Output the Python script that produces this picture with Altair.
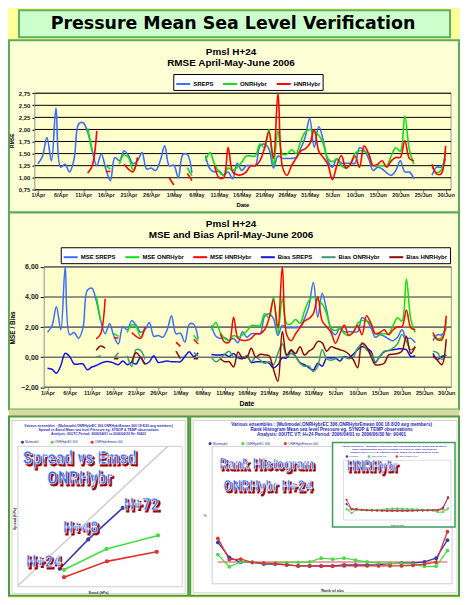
import altair as alt
import pandas as pd

N = None

# ---------------- data ----------------
tick_labels = ["1/Apr", "6/Apr", "11/Apr", "16/Apr", "21/Apr", "26/Apr", "1/May", "6/May",
               "11/May", "16/May", "21/May", "26/May", "31/May", "5/Jun", "10/Jun", "15/Jun",
               "20/Jun", "25/Jun", "30/Jun"]
tick_days = list(range(0, 91, 5))

rmse_names = ["SREPS", "ONRHybr", "HNRHybr"]
rmse_colors = ["#3D6EF5", "#11DD11", "#FF0000"]
rmse_ticks = [0.75, 1.0, 1.25, 1.5, 1.75, 2.0, 2.25, 2.5, 2.75]

rmse_sreps = [1.29, 1.44, 1.83, 1.35, 2.45, 1.22, 1.28, 1.12, 1.39, 2.11,
              2.14, 1.94, 1.56, 1.25, 1.49, 1.18, 0.94, 1.42, 1.35, 1.56,
              1.46, 1.29, 1.35, 1.52, 1.18, 1.20, 1.15, 1.35, 1.66, 1.25,
              1.26, 1.00, 1.48, 1.48, 1.10, N, N, 1.46, 1.18, 1.12,
              1.14, 1.05, 1.12, 0.98, 1.30, 1.15, 1.25, 1.25, 1.25, 1.65,
              1.70, 1.60, 1.20, 1.45, 1.40, 1.40, 1.40, 1.42, 1.60, 1.84,
              2.23, 1.63, 2.06, 1.77, 1.35, 1.22, 1.39, 1.30, 1.30, 1.30,
              1.30, 1.62, 1.57, 1.40, 1.15, 1.22, 1.18, 1.10, 1.05, 1.15,
              1.35, 1.12, 1.12, 0.98, N, N, N, 1.05, 1.22, 1.22,
              1.39]
rmse_onr = [N, N, N, N, N, N, N, N, N, N,
            N, 2.02, 1.55, N, N, 1.25, 1.18, N, 1.28, 1.47,
            1.42, 1.16, 1.40, N, N, N, N, N, N, N,
            N, N, N, 1.21, 1.04, N, N, 1.35, 1.52, 1.28,
            1.12, 1.05, 1.20, 1.15, 1.22, 1.32, 1.45, 1.45, 1.45, 1.70,
            1.62, 2.00, 1.25, 1.97, 1.49, 1.49, 1.58, 1.50, 1.75, 1.94,
            2.00, 1.95, 1.88, 1.70, 1.40, 1.33, 1.39, 1.25, 1.20, 1.30,
            1.50, 1.56, 1.55, 1.49, 1.25, 1.25, 1.25, 1.25, 1.45, 1.62,
            1.55, 2.28, 1.58, 1.28, N, N, N, 1.22, 1.11, 1.15,
            1.56]
rmse_hnr = [N, N, N, N, N, N, N, N, N, N,
            N, 1.10, 1.25, 1.97, N, 1.13, 1.13, N, N, 1.28,
            1.18, 1.12, 1.42, N, N, N, N, N, N, 1.00,
            0.85, N, N, 1.09, 0.94, N, N, N, N, 1.25,
            1.00, 1.00, 1.63, 1.12, 1.06, 1.06, 1.12, 1.25, 1.25, 1.35,
            1.60, 1.95, 1.40, 2.75, 1.22, 1.05, 1.25, 1.40, 1.55, 1.60,
            1.70, 2.00, 1.55, 1.42, 1.28, 0.96, 1.25, 1.46, 1.20, 1.28,
            1.45, 1.22, 1.66, 1.50, 1.25, 1.28, 1.35, 1.22, 1.35, 1.42,
            1.42, 1.77, 1.40, 1.35, N, N, N, 1.28, 1.08, 1.08,
            1.66]

mse_names = ["MSE SREPS", "MSE ONRHybr", "MSE HNRHybr", "Bias SREPS", "Bias ONRHybr", "Bias HNRHybr"]
mse_colors = ["#3D6EF5", "#11DD11", "#FF0000", "#1515E0", "#3A9A6A", "#8B0A0A"]
mse_ticks = [-2, 0, 2, 4, 6]

mse_sreps = [1.66, 2.07, 3.35, 1.82, 6.00, 1.49, 1.64, 1.25, 1.93, 4.45,
             4.58, 3.76, 2.43, 1.56, 2.22, 1.39, 0.88, 2.02, 1.82, 2.43,
             2.13, 1.66, 1.82, 2.31, 1.39, 1.44, 1.32, 1.82, 2.76, 1.56,
             1.59, 1.00, 2.19, 2.19, 1.21, N, N, 2.13, 1.39, 1.25,
             1.30, 1.10, 1.25, 0.96, 1.69, 1.32, 1.56, 1.56, 1.56, 2.72,
             2.89, 2.56, 1.44, 2.10, 1.96, 1.96, 1.96, 2.02, 2.56, 3.39,
             4.97, 2.66, 4.24, 3.13, 1.82, 1.49, 1.93, 1.69, 1.69, 1.69,
             1.69, 2.62, 2.46, 1.96, 1.32, 1.49, 1.39, 1.21, 1.10, 1.32,
             1.82, 1.25, 1.25, 0.96, N, N, N, 1.10, 1.49, 1.49,
             1.93]
mse_onr = [N, N, N, N, N, N, N, N, N, N,
           N, 4.08, 2.40, N, N, 1.56, 1.39, N, 1.64, 2.16,
           2.02, 1.35, 1.96, N, N, N, N, N, N, N,
           N, N, N, 1.46, 1.08, N, N, 1.82, 2.31, 1.64,
           1.25, 1.10, 1.44, 1.32, 1.49, 1.74, 2.10, 2.10, 2.10, 2.89,
           2.62, 4.00, 1.56, 3.88, 2.22, 2.22, 2.50, 2.25, 3.06, 3.76,
           4.00, 3.80, 3.53, 2.89, 1.96, 1.77, 1.93, 1.56, 1.44, 1.69,
           2.25, 2.43, 2.40, 2.22, 1.56, 1.56, 1.56, 1.56, 2.10, 2.62,
           2.40, 5.20, 2.50, 1.64, N, N, N, 1.49, 1.23, 1.32,
           2.43]
mse_hnr = [N, N, N, N, N, N, N, N, N, N,
           N, 1.21, 1.56, 3.88, N, 1.28, 1.28, N, N, 1.64,
           1.39, 1.25, 2.02, N, N, N, N, N, N, 1.00,
           0.72, N, N, 1.19, 0.88, N, N, N, N, 1.56,
           1.00, 1.00, 2.66, 1.25, 1.12, 1.12, 1.25, 1.56, 1.56, 1.82,
           2.56, 3.80, 1.96, 7.56, 1.49, 1.10, 1.56, 1.96, 2.40, 2.56,
           2.89, 4.00, 2.40, 2.02, 1.64, 0.92, 1.56, 2.13, 1.44, 1.64,
           2.10, 1.49, 2.76, 2.25, 1.56, 1.64, 1.82, 1.49, 1.82, 2.02,
           2.02, 3.13, 1.96, 1.82, N, N, N, 1.64, 1.17, 1.17,
           2.76]
bias_sreps = [-0.73, -0.80, -1.06, -0.55, 0.26, 0.05, -0.45, -0.45, -0.45, -0.84,
              -0.65, -0.55, -0.40, -0.30, -0.30, -0.40, -0.50, -0.25, -0.50, -0.35,
              -0.45, 0.00, -0.45, -0.30, 0.10, -0.35, -0.30, -0.25, -0.30, -0.30,
              -0.30, 0.05, 0.37, 0.05, 0.30, N, N, 0.18, 0.15, 0.15,
              0.18, 0.05, 0.25, -0.05, -0.10, 0.10, -0.35, -0.30, -0.30, -0.30,
              -0.40, -0.70, -0.50, -0.05, -0.05, 0.45, 0.05, -0.35, -0.50, -0.70,
              -0.85, -0.40, -0.60, -0.05, -0.05, -0.05, -0.25, 0.05, -0.05, 0.20,
              0.50, 0.70, 0.60, 0.40, -0.35, 0.05, 0.35, 0.45, 0.50, 0.55,
              0.55, 0.50, 0.05, 0.10, N, N, N, 0.25, -0.15, 0.05,
              0.15]
bias_onr = [N, N, N, N, N, N, N, N, N, N,
            N, 0.00, 0.10, N, N, -0.05, 0.30, N, 0.10, -0.60,
            0.50, 0.45, -0.15, N, N, N, N, N, N, N,
            N, N, N, 0.30, 0.10, N, N, 0.00, -0.30, -0.10,
            0.20, 0.40, 0.00, 0.05, 0.00, 0.05, -0.30, 0.00, -0.20, -0.40,
            -0.30, -0.50, 0.25, 0.90, 0.05, 0.25, 0.05, -0.40, -0.60, -0.60,
            -0.95, -0.60, 0.50, -0.10, -0.20, -0.10, 0.00, 0.00, -0.10, 0.00,
            0.60, 0.90, 0.50, 0.25, -0.30, 0.05, 0.40, 0.45, 0.60, 0.90,
            1.50, 1.05, 0.50, 0.70, N, N, N, 0.40, 0.30, -0.15,
            0.15]
bias_hnr = [N, N, N, N, N, N, N, N, N, N,
            N, 0.45, 0.75, 0.60, N, -0.10, -0.10, N, N, -0.35,
            0.30, 0.00, -0.45, N, N, N, N, N, N, 0.40,
            -0.10, N, N, -0.10, -0.10, N, N, N, N, -0.10,
            -0.30, -0.30, -0.65, 0.35, -0.05, 0.00, 0.60, 0.00, 0.20, 0.15,
            0.10, -0.80, -1.60, 1.70, 0.15, 0.50, 0.25, 0.70, 0.15, 0.40,
            0.60, 1.05, 0.95, 0.40, 0.70, 0.60, 0.50, 0.40, 0.20, -0.15,
            -0.70, 0.95, 0.70, 0.05, -0.50, -0.50, -0.40, 0.15, 0.20, 0.25,
            0.40, 1.40, 0.25, 0.70, N, N, N, 0.10, -0.20, -0.50,
            1.20]

# Spread vs Emsd (ONRHybr)
spread_names = ["Mulimodel", "ONRHybrEC 306", "ONRHybrEmean 000"]
spread_colors = ["#3A3AAA", "#44DD44", "#DD3333"]
lead_labels = ["H+24", "H+48", "H+72"]
emsd_blue = [1.41, 1.88, 2.45]
spread_blue = [1.02, 1.54, 2.10]
emsd_green = [1.48, 2.18, 3.03]
spread_green = [1.00, 1.37, 1.61]
emsd_red = [1.48, 2.19, 3.01]
spread_red = [0.87, 1.15, 1.32]
diag = [0.72, 3.19]

# Rank histograms
ranks = list(range(21))
rank_blue = [9.1, 5.8, 4.7, 4.7, 4.3, 4.3, 4.1, 3.9, 3.9, 3.9, 3.9, 4.1, 4.1, 4.1, 4.2, 4.4, 4.5, 4.5, 4.8, 5.6, 9.6]
rank_green = [6.4, 3.7, 4.8, 4.7, 4.5, 4.5, 4.6, 4.7, 4.8, 5.6, 5.4, 5.6, 5.2, 4.8, 4.5, 4.4, 4.4, 4.3, 3.8, 3.8, 7.3]
rank_red = [10.0, 5.3, 5.4, 4.7, 4.5, 4.4, 4.1, 3.9, 3.9, 3.8, 3.8, 3.9, 3.9, 3.9, 3.9, 3.9, 3.9, 4.0, 4.3, 4.7, 11.5]
hnr_blue = [7.8, 5.2, 5.0, 4.8, 4.6, 4.5, 4.5, 4.4, 4.4, 4.4, 4.4, 4.4, 4.4, 4.5, 4.5, 4.5, 4.6, 4.6, 4.7, 6.0, 10.9]
hnr_green = [5.2, 3.1, 4.8, 4.7, 4.6, 4.6, 4.7, 4.9, 5.3, 5.4, 5.5, 5.4, 5.3, 5.2, 5.0, 4.8, 4.6, 4.5, 3.6, 3.6, 5.5]
hnr_red = [10.0, 5.2, 5.2, 4.8, 4.6, 4.5, 4.4, 4.3, 4.2, 4.2, 4.2, 4.2, 4.2, 4.3, 4.4, 4.5, 4.5, 4.6, 4.7, 5.4, 11.4]
uniform_pct = 4.76

rank_title = ["Various ensembles : (Mulimodel,ONRHybrEC 306,ONRHybrEmean 000 18 8/20 avg members)",
              "Rank Histogram  Mean sea level Pressure  eg. SYNOP & TEMP observations",
              "Analysis: 00UTC  VT: H+24  Period: 2006/04/01 to 2006/06/30  Nr: 90401"]
spread_title = ["Various ensembles : (Mulimodel,ONRHybrEC 306,ONRHybrEmean 000 18 8/20 avg members)",
                "Spread vs Emsd  Mean sea level Pressure  eg. SYNOP & TEMP observations",
                "Analysis: 00UTC  Period: 2006/04/01 to 2006/06/30  Nr: 90401"]

# ---------------- helpers ----------------
ONE = pd.DataFrame({"a": [0]})
FONT = "Liberation Sans, Arial, Helvetica, sans-serif"
BIG = "Liberation Sans Narrow, Roboto Condensed, DejaVu Sans Condensed, Arial Narrow, sans-serif"
W = 452
H_TITLE, H_RMSE, H_MSE, H_STRIPE, H_BOT = 31, 173, 198, 7, 180
PANEL_FILL = "#FFFFD6"
PLOT_FILL = "#FFFFCC"
GREEN = "#5DAA5D"


def long_df(names, arrays, xname="day"):
    rows = []
    for name, arr in zip(names, arrays):
        seg = 0
        for d, v in enumerate(arr):
            if v is None:
                seg += 1
                continue
            rows.append({xname: d, "value": v, "series": name, "seg": f"{name}-{seg}"})
    return pd.DataFrame(rows)


def txt(text, x, y, size, color="black", weight="bold", angle=None, font=FONT, align="center"):
    kw = dict(text=text, fontSize=size, fontWeight=weight, fill=color, font=font,
              align=align, baseline="middle")
    if angle is not None:
        kw["angle"] = angle
    return alt.Chart(ONE).mark_text(**kw).encode(x=alt.value(x), y=alt.value(y))


def box(x, x2, y, y2, fill, stroke, sw=1.0):
    return alt.Chart(ONE).mark_rect(fill=fill, stroke=stroke, strokeWidth=sw).encode(
        x=alt.value(x), x2=alt.value(x2), y=alt.value(y), y2=alt.value(y2))


def bigtext(text, x, y, size):
    base = dict(text=text, fontSize=size, fontWeight="bold", font=BIG, align="center", baseline="middle")
    return [
        alt.Chart(ONE).mark_text(**base, fill="#A00000", stroke="#A00000", strokeWidth=0.8, dx=1.8, dy=1.8)
        .encode(x=alt.value(x), y=alt.value(y)),
        alt.Chart(ONE).mark_text(**base, fill="#2F6CF5", stroke="white", strokeWidth=0.6)
        .encode(x=alt.value(x), y=alt.value(y)),
    ]


label_arr = "[" + ",".join("'%s'" % t for t in tick_labels) + "]"
x_label_expr = label_arr + "[round(datum.value/5)]"
comma_expr = "replace(format(datum.value, '.2f'), '.', ',')"


def date_panel(height, xdom, xrange, ydom, yrange, yticks, df, names, colors, title2,
               legend_x, legend_y, ytitle, ytitle_pos, date_pos, ylab_size, ytick_size,
               grid_color, grid_width, clamp=False, line_width=1.6):
    xs = alt.Scale(domain=xdom, range=xrange, nice=False, zero=False)
    ys = alt.Scale(domain=ydom, range=yrange, nice=False, zero=False, clamp=clamp)
    xa = alt.Axis(orient="bottom", offset=yrange[0] - height, values=tick_days, labelExpr=x_label_expr,
                  labelFontSize=5.5, labelFont=FONT, labelFontWeight="bold", labelColor="#202020",
                  tickSize=3, tickColor="#808080", domain=False, grid=False, title=None,
                  labelPadding=0, labelOverlap=False, labelFlush=False, labelBound=False)
    ya = alt.Axis(orient="left", offset=-xrange[0], values=yticks, labelExpr=comma_expr,
                  labelFontSize=ylab_size, labelFont=FONT, labelFontWeight="bold", labelColor="#202020",
                  tickSize=ytick_size, tickColor="black", domain=True, domainColor="black",
                  grid=False, title=None, labelPadding=2, labelOverlap=False, labelFlush=False)
    bg = alt.Chart(ONE).mark_rect(fill=PLOT_FILL, stroke="#9A9A9A", strokeWidth=1).encode(
        x=alt.XDatum(xdom[0], scale=xs, axis=xa), x2=alt.X2Datum(xdom[1]),
        y=alt.YDatum(ydom[0], scale=ys, axis=ya), y2=alt.Y2Datum(ydom[1]))
    grid = alt.Chart(pd.DataFrame({"g": yticks})).mark_rule(color=grid_color, strokeWidth=grid_width).encode(
        y=alt.Y("g:Q", scale=ys, axis=ya),
        x=alt.XDatum(xdom[0], scale=xs, axis=xa), x2=alt.X2Datum(xdom[1]))
    lines = alt.Chart(df).mark_line(interpolate="catmull-rom", strokeWidth=line_width).encode(
        x=alt.X("day:Q", scale=xs, axis=xa),
        y=alt.Y("value:Q", scale=ys, axis=ya),
        color=alt.Color("series:N", scale=alt.Scale(domain=names, range=colors),
                        legend=alt.Legend(orient="none", legendX=legend_x, legendY=legend_y,
                                          direction="horizontal", columns=len(names),
                                          symbolType="stroke", symbolSize=196, symbolStrokeWidth=2,
                                          labelFontSize=6, labelFont=FONT, labelFontWeight="bold",
                                          labelColor="black", labelOffset=2, columnPadding=5,
                                          padding=2, rowPadding=0, strokeColor="black",
                                          fillColor="white", title=None, labelLimit=200)),
        detail="seg:N")
    layers = [bg, grid, lines,
              txt("Pmsl     H+24", 223, 12, 10),
              txt(title2, 223, 23, 10),
              txt(ytitle, ytitle_pos[0], ytitle_pos[1], ytitle_pos[2], angle=270),
              txt("Date", date_pos[0], date_pos[1], date_pos[2])]
    return alt.layer(*layers).properties(
        width=W, height=height,
        view=alt.ViewBackground(fill=PANEL_FILL, stroke=GREEN, strokeWidth=2))


# ---------------- title ----------------
title_chart = alt.layer(
    box(10, 443, 1, 28, "#CCFFCC", "#5FAF5F", 2),
    txt("Pressure Mean Sea Level Verification", 225, 14.5, 17.5,
        font="DejaVu Sans, Verdana, sans-serif"),
).properties(width=W, height=H_TITLE, view=alt.ViewBackground(fill="#FFFF99", stroke=None))

# ---------------- RMSE ----------------
rmse_df = long_df(rmse_names, [rmse_sreps, rmse_onr, rmse_hnr])
rmse_chart = date_panel(H_RMSE, [-0.66, 91.2], [26, 444], [0.75, 2.75], [150.3, 53.3], rmse_ticks,
                        rmse_df, rmse_names, rmse_colors, "RMSE     April-May-June 2006",
                        165, 34, "RMSE", (3, 101, 5), (235, 166, 6), 6, 3, "black", 1)

# ---------------- MSE & Bias ----------------
mse_df = long_df(mse_names, [mse_sreps, mse_onr, mse_hnr, bias_sreps, bias_onr, bias_hnr])
mse_chart = date_panel(H_MSE, [-0.76, 91.15], [35.3, 444.3], [-2, 6], [175.7, 54.7], mse_ticks,
                       mse_df, mse_names, mse_colors, "MSE and Bias     April-May-June 2006",
                       52, 35, "MSE / Bias", (4, 116, 6.5), (239, 192, 7), 7, 4, "#707070", 1.6,
                       clamp=True, line_width=1.5)

stripe = alt.Chart(ONE).mark_text(text="").encode(x=alt.value(0), y=alt.value(0)).properties(
    width=W, height=H_STRIPE, view=alt.ViewBackground(fill="#D9D9A3", stroke=None))


# ---------------- bottom left: Spread vs Emsd ----------------
def mini_legend(x, y, size):
    return alt.Legend(orient="none", legendX=x, legendY=y, direction="horizontal", columns=3,
                      symbolType="circle", symbolSize=size * 3, labelFontSize=size, labelFont=FONT,
                      labelColor="#3030A0", labelOffset=1, columnPadding=size * 4, padding=0,
                      title=None, symbolStrokeWidth=0)


sp_rows = []
for name, xs_, ys_ in zip(spread_names, [emsd_blue, emsd_green, emsd_red], [spread_blue, spread_green, spread_red]):
    for lead, xv, yv in zip(lead_labels, xs_, ys_):
        sp_rows.append({"emsd": xv, "spread": yv, "series": name, "lead": lead})
sp_df = pd.DataFrame(sp_rows)

lx = alt.Scale(domain=[0.72, 3.43], range=[9, 174], nice=False, zero=False)
ly = alt.Scale(domain=[0.70, 3.19], range=[171, 30], nice=False, zero=False)
lxa = alt.Axis(orient="bottom", offset=171 - H_BOT, values=[1, 2, 3], labelFontSize=4, labelFont=FONT,
               tickSize=2, tickColor="#999999", domain=False, grid=False, title=None, labelPadding=1,
               labelColor="#333333")
lya = alt.Axis(orient="left", offset=-9, values=[1, 2, 3], labelFontSize=4, labelFont=FONT,
               tickSize=2, tickColor="#999999", domain=False, grid=False, title=None, labelPadding=2,
               labelColor="#333333")
l_frame = alt.Chart(ONE).mark_rect(fill="white", stroke="#C4C4C4", strokeWidth=0.8).encode(
    x=alt.XDatum(0.72, scale=lx, axis=lxa), x2=alt.X2Datum(3.43),
    y=alt.YDatum(0.70, scale=ly, axis=lya), y2=alt.Y2Datum(3.19))
l_diag = alt.Chart(pd.DataFrame({"emsd": diag, "spread": diag})).mark_line(color="#D0D0D0", strokeWidth=1.5).encode(
    x=alt.X("emsd:Q", scale=lx, axis=lxa), y=alt.Y("spread:Q", scale=ly, axis=lya))
l_lines = alt.Chart(sp_df).mark_line(strokeWidth=1.6, point=alt.OverlayMarkDef(filled=True, size=18)).encode(
    x=alt.X("emsd:Q", scale=lx, axis=lxa), y=alt.Y("spread:Q", scale=ly, axis=lya),
    color=alt.Color("series:N", scale=alt.Scale(domain=spread_names, range=spread_colors),
                    legend=mini_legend(12, 24, 3)))
left_layers = [box(3, 177, 4, 178, "white", "#C8C8C8", 0.8), l_frame, l_diag, l_lines]
for i, t in enumerate(spread_title):
    left_layers.append(txt(t, 90, 10 + i * 4, 3.4, color="#3030C0"))
left_layers += [txt("Spread (hPa)", 6, 103, 3.6, color="#333333", angle=270),
                txt("Emsd (hPa)", 90, 177, 3.6, color="#333333")]
left_layers += bigtext("Spread vs Emsd", 71, 43, 18)
left_layers += bigtext("ONRHybr", 71, 63, 18)
left_layers += bigtext("H+24", 35, 146, 17)
left_layers += bigtext("H+48", 72, 112, 17)
left_layers += bigtext("H+72", 133, 89, 17)
left_chart = alt.layer(*left_layers).properties(
    width=180, height=H_BOT, view=alt.ViewBackground(fill="#FFFFE6", stroke="#4D9A4D", strokeWidth=2))

# ---------------- bottom right: Rank histogram ----------------
rk_df = long_df(spread_names, [rank_blue, rank_green, rank_red], xname="rank")
hn_df = long_df(spread_names, [hnr_blue, hnr_green, hnr_red], xname="rank")

kx = alt.Scale(domain=[-0.5, 20.4], range=[22, 263], nice=False, zero=False)
ky = alt.Scale(domain=[-0.07, 30.44], range=[168, 30], nice=False, zero=False)
kxa = alt.Axis(orient="bottom", offset=168 - H_BOT, values=ranks, labelFontSize=3.6, labelFont=FONT,
               tickSize=2, tickColor="#999999", domain=False, grid=False, title=None, labelPadding=1,
               labelColor="#333333", labelOverlap=False, labelFlush=False)
kya = alt.Axis(orient="left", offset=-22, values=[0, 10, 20, 30], labelFontSize=3.6, labelFont=FONT,
               tickSize=2, tickColor="#999999", domain=False, grid=False, title=None, labelPadding=2,
               labelColor="#333333")
k_frame = alt.Chart(ONE).mark_rect(fill="white", stroke="#C4C4C4", strokeWidth=0.8).encode(
    x=alt.XDatum(-0.5, scale=kx, axis=kxa), x2=alt.X2Datum(20.4),
    y=alt.YDatum(-0.07, scale=ky, axis=kya), y2=alt.Y2Datum(30.44))
k_rule = alt.Chart(ONE).mark_rule(color="#E03030", strokeWidth=0.9).encode(
    x=alt.XDatum(0, scale=kx, axis=kxa), x2=alt.X2Datum(20),
    y=alt.YDatum(uniform_pct, scale=ky, axis=kya))
k_lines = alt.Chart(rk_df).mark_line(strokeWidth=1.3, point=alt.OverlayMarkDef(filled=True, size=14)).encode(
    x=alt.X("rank:Q", scale=kx, axis=kxa), y=alt.Y("value:Q", scale=ky, axis=kya),
    color=alt.Color("series:N", scale=alt.Scale(domain=spread_names, range=spread_colors),
                    legend=mini_legend(18, 25, 3.2)))
main_layers = [box(3, 268, 4, 177, "white", "#C8C8C8", 0.8), k_frame, k_rule, k_lines]
for i, t in enumerate(rank_title):
    main_layers.append(txt(t, 142, 9 + i * 5, 4.6, color="#2828B8"))
main_layers += [txt("%", 15, 100, 4, color="#333333", weight="normal"),
                txt("Rank of obs", 143, 175.5, 4, color="#333333")]
main_group = alt.layer(*main_layers)

ix = alt.Scale(domain=[-0.6, 20.6], range=[154, 262], nice=False, zero=False)
iy = alt.Scale(domain=[-0.5, 30.5], range=[104, 44], nice=False, zero=False)
ixa = alt.Axis(orient="bottom", offset=104 - H_BOT, values=ranks, labelFontSize=2.2, labelFont=FONT,
               tickSize=1, tickColor="#999999", domain=False, grid=False, title=None, labelPadding=0.5,
               labelColor="#555555", labelOverlap=False, labelFlush=False)
iya = alt.Axis(orient="left", offset=-154, values=[0, 10, 20, 30], labelFontSize=2.4, labelFont=FONT,
               tickSize=1, tickColor="#999999", domain=False, grid=False, title=None, labelPadding=1,
               labelColor="#555555")
i_frame = alt.Chart(ONE).mark_rect(fill="white", stroke="#C8C8C8", strokeWidth=0.6).encode(
    x=alt.XDatum(-0.6, scale=ix, axis=ixa), x2=alt.X2Datum(20.6),
    y=alt.YDatum(-0.5, scale=iy, axis=iya), y2=alt.Y2Datum(30.5))
i_rule = alt.Chart(ONE).mark_rule(color="#E03030", strokeWidth=0.6).encode(
    x=alt.XDatum(0, scale=ix, axis=ixa), x2=alt.X2Datum(20),
    y=alt.YDatum(uniform_pct, scale=iy, axis=iya))
i_lines = alt.Chart(hn_df).mark_line(strokeWidth=0.9, point=alt.OverlayMarkDef(filled=True, size=5)).encode(
    x=alt.X("rank:Q", scale=ix, axis=ixa), y=alt.Y("value:Q", scale=iy, axis=iya),
    color=alt.Color("series:N", scale=alt.Scale(domain=spread_names, range=spread_colors),
                    legend=mini_legend(156, 38.5, 2)))
inset_layers = [box(143, 266, 26, 111, "white", "#3C9C5C", 1.5), i_frame, i_rule, i_lines]
for i, t in enumerate(rank_title):
    inset_layers.append(txt(t.replace("H+24", "H+24 HNRHybr"), 205, 29.5 + i * 3, 2.4, color="#2828B8"))
inset_layers.append(txt("Rank of obs", 208, 108.5, 2.4, color="#555555"))
inset_group = alt.layer(*inset_layers)

right_chart = alt.layer(main_group, inset_group, *bigtext("Rank Histogram", 77, 48, 15),
                        *bigtext("ONRHybr  H+24", 78, 70, 15),
                        *bigtext("HNRHybr", 183, 51, 14)).resolve_scale(
    x="independent", y="independent", color="independent").properties(
    width=270, height=H_BOT, view=alt.ViewBackground(fill="#FFFFE6", stroke="#4D9A4D", strokeWidth=2))

bottom = alt.hconcat(left_chart, right_chart, spacing=2, bounds="flush").resolve_scale(
    color="independent").resolve_legend(color="independent")

chart = alt.vconcat(title_chart, rmse_chart, mse_chart, stripe, bottom, spacing=0, bounds="flush").resolve_scale(
    color="independent").resolve_legend(color="independent").properties(
    background="#FFFF99", padding=0).configure_view(stroke=None)

chart.save("out.html", embed_options={"renderer": "svg", "actions": False})
